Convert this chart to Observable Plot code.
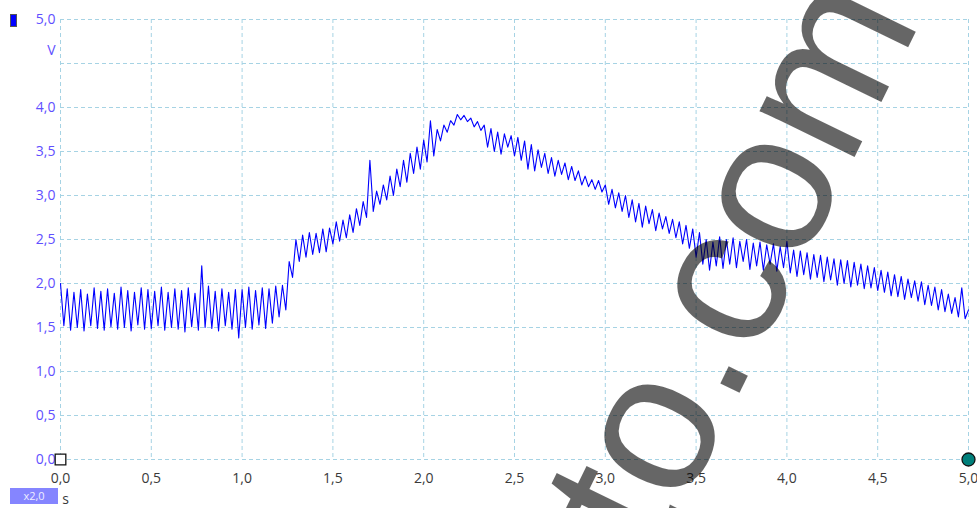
<!DOCTYPE html>
<html><head><meta charset="utf-8">
<script src="https://cdn.jsdelivr.net/npm/d3@7"></script>
<script src="https://cdn.jsdelivr.net/npm/@observablehq/plot@0.6"></script>
<style>
html,body{margin:0;padding:0;background:#fff;}
#wrap{position:relative;width:977px;height:508px;overflow:hidden;}
#wrap svg{position:absolute;left:0;top:0;}
#ch{position:absolute;left:10px;top:14px;width:5px;height:11px;background:#0000ff;border:1px solid #555;z-index:2;}
#badge{position:absolute;left:10px;top:488px;width:48px;height:16px;background:#8585ff;color:#eef;font:11px "Open Sans",sans-serif;line-height:16px;text-align:center;z-index:2;}
</style></head><body><div id="wrap"><div id="ch"></div><div id="badge">x2,0</div></div>
<script>
// sample step (s)
const dt = 1/54;
// voltage samples, one line = 0.5 s
const volts = [
 2.00,1.52,1.94,1.47,1.90,1.50,1.93,1.46,1.88,1.52,1.95,1.49,1.91,1.47,1.94,1.51,1.89,1.48,1.96,1.50,1.92,1.46,1.90,1.53,1.95,1.48,1.93,
 1.49,1.91,1.52,1.96,1.47,1.90,1.50,1.94,1.48,1.92,1.45,1.95,1.51,1.89,1.47,2.20,1.50,1.97,1.49,1.91,1.46,1.94,1.52,1.90,1.48,1.93,1.38,
 1.93,1.50,1.96,1.48,1.92,1.53,1.95,1.49,1.94,1.55,1.97,1.62,1.98,1.70,2.25,2.07,2.50,2.25,2.55,2.30,2.58,2.33,2.57,2.35,2.62,2.36,2.63,
 2.45,2.70,2.48,2.72,2.52,2.78,2.58,2.85,2.66,2.93,2.75,3.40,2.82,3.05,2.90,3.12,2.95,3.22,3.00,3.30,3.10,3.40,3.15,3.48,3.25,3.55,3.30,
 3.63,3.38,3.85,3.45,3.75,3.62,3.80,3.72,3.85,3.80,3.92,3.86,3.91,3.84,3.88,3.78,3.84,3.74,3.80,3.55,3.76,3.50,3.72,3.47,3.70,3.55,3.68,
 3.45,3.66,3.40,3.62,3.30,3.58,3.28,3.52,3.32,3.48,3.25,3.43,3.22,3.40,3.24,3.37,3.18,3.33,3.17,3.28,3.12,3.22,3.10,3.18,3.07,3.17,3.04,
 3.12,2.90,3.07,2.86,3.03,2.82,3.00,2.75,2.95,2.70,2.91,2.64,2.88,2.68,2.84,2.60,2.80,2.62,2.76,2.57,2.73,2.52,2.70,2.45,2.66,2.40,2.62,
 2.30,2.58,2.22,2.50,2.15,2.47,2.20,2.53,2.17,2.50,2.22,2.52,2.18,2.48,2.25,2.50,2.16,2.46,2.20,2.47,2.15,2.44,2.22,2.45,2.14,2.42,2.18,
 2.48,2.12,2.38,2.08,2.37,2.10,2.35,2.05,2.33,2.07,2.32,2.02,2.30,2.04,2.28,1.98,2.27,2.00,2.26,1.96,2.24,1.98,2.22,1.94,2.20,1.95,2.18,
 1.92,2.15,1.90,2.13,1.86,2.10,1.85,2.08,1.82,2.05,1.84,2.03,1.80,2.02,1.76,1.98,1.75,1.96,1.70,1.93,1.68,1.88,1.66,1.84,1.62,1.95,1.60,
 1.70
];
const xTicks = [0,0.5,1,1.5,2,2.5,3,3.5,4,4.5,5];
const yGrid = [0,0.5,1,1.5,2,2.5,3,3.5,4,4.5,5];
const yLabels = [0,0.5,1,1.5,2,2.5,3,3.5,4,5];
const yUnit = ["V"];
const xUnit = ["s"];
const startMarker = [{t:0, v:0}];
const endMarker = [{t:5, v:0}];
const watermark = [{text:"to.com", t:3.70, v:2.25}];

const fmt = d => d.toFixed(1).replace(".", ",");
const data = volts.map((v, i) => ({t: i * dt, v}));

const chart = Plot.plot({
  width: 977, height: 508,
  marginLeft: 60, marginRight: 9, marginTop: 19, marginBottom: 49,
  x: {domain: [0, 5]},
  y: {domain: [0, 5]},
  style: {fontFamily: "'Open Sans', 'Noto Sans', sans-serif", fontSize: "14px", background: "transparent", overflow: "visible"},
  marks: [
    Plot.gridX(xTicks, {stroke: "#a6d3e4", strokeOpacity: 1, strokeDasharray: "4,3"}),
    Plot.gridY(yGrid, {stroke: "#a6d3e4", strokeOpacity: 1, strokeDasharray: "4,3"}),
    Plot.axisX(xTicks, {tickSize: 0, tickPadding: 14, tickFormat: fmt, fill: "#3a3a3a", label: null}),
    Plot.axisY(yLabels, {tickSize: 0, tickPadding: 5, tickFormat: fmt, fill: "#5f50ff", label: null}),
    Plot.line(data, {x: "t", y: "v", stroke: "#0000ff", strokeWidth: 1.1}),
    Plot.text(yUnit, {frameAnchor: "top-left", text: d => d, dx: -5, dy: 26, textAnchor: "end", fill: "#5f50ff"}),
    Plot.text(xUnit, {frameAnchor: "bottom-left", text: d => d, dx: 5, dy: 44, textAnchor: "middle", fill: "#3a3a3a"}),
    Plot.dot(startMarker, {x: "t", y: "v", symbol: "square", r: 6, fill: "#fff", stroke: "#111", strokeWidth: 1.3}),
    Plot.dot(endMarker, {x: "t", y: "v", r: 6.5, fill: "#007f7a", stroke: "#111", strokeWidth: 1.3}),
    Plot.text(watermark, {x: "t", y: "v", text: "text", rotate: -64, fontSize: 200,
      fontFamily: "'Liberation Sans', Arial, sans-serif", fill: "#000", fillOpacity: 0.6,
      textAnchor: "middle", lineAnchor: "middle"})
  ]
});
document.getElementById("wrap").appendChild(chart);
</script>
</body></html>
